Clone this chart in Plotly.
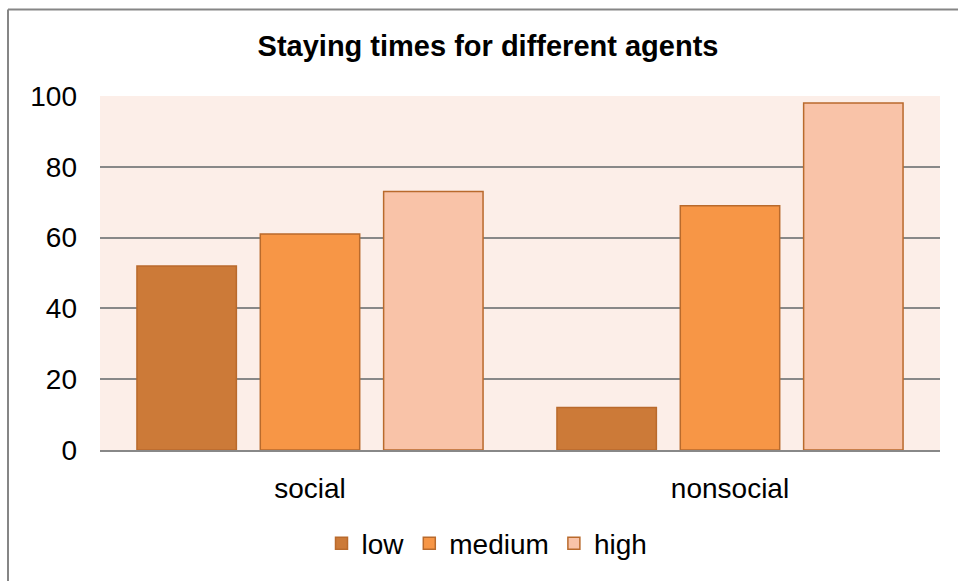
import plotly.graph_objects as go

# Staying times per agent type, split by level
categories = ["social", "nonsocial"]
low = [52, 12]
medium = [61, 69]
high = [73, 98]
y_ticks = [0, 20, 40, 60, 80, 100]

W, H = 958, 581
L, R, T, B = 100, 18, 96, 129
plot_w = W - L - R
plot_h = H - T - B

FONT = "Liberation Sans, Arial, sans-serif"
OUTLINE = "#B96A2C"

series = [
    ("low", low, "#CC7A38"),
    ("medium", medium, "#F79646"),
    ("high", high, "#F9C3A8"),
]

fig = go.Figure()
for name, vals, color in series:
    fig.add_trace(go.Bar(
        name=name, x=categories, y=vals,
        marker=dict(color=color, line=dict(color=OUTLINE, width=1.5)),
    ))

def px_x(px):
    return (px - L) / plot_w

def px_y(py):
    return (H - B - py) / plot_h

fig.update_layout(
    width=W, height=H,
    margin=dict(l=L, r=R, t=T, b=B, pad=0),
    paper_bgcolor="white",
    plot_bgcolor="#FCEEE8",
    barmode="group",
    bargap=0.119,
    bargroupgap=0.194,
    font=dict(family=FONT, size=28, color="black"),
    title=dict(
        text="<b>Staying times for different agents</b>",
        font=dict(family=FONT, size=29, color="black"),
        x=488 / W, xanchor="center", xref="container",
        y=1 - 46 / H, yanchor="middle", yref="container",
    ),
    showlegend=True,
    legend=dict(
        orientation="h",
        x=px_x(487), xanchor="center",
        y=px_y(546), yanchor="middle",
        font=dict(family=FONT, size=28),
        bgcolor="rgba(0,0,0,0)",
        traceorder="normal",
    ),
    xaxis=dict(
        showgrid=False, showline=True, linecolor="#888888", linewidth=2,
        ticks="", tickfont=dict(size=28), ticklabelstandoff=12,
        fixedrange=True,
    ),
    yaxis=dict(
        range=[0, 100], tickvals=y_ticks, showgrid=True,
        gridcolor="#888888", gridwidth=2, zeroline=False,
        showline=False, ticks="", tickfont=dict(size=28),
        ticklabelstandoff=22, fixedrange=True,
    ),
    shapes=[
        # chart-area frame: left and top edges
        dict(type="line", xref="paper", yref="paper",
             x0=px_x(8), x1=px_x(8), y0=px_y(9), y1=px_y(H + 5),
             line=dict(color="#868686", width=2)),
        dict(type="line", xref="paper", yref="paper",
             x0=px_x(8), x1=px_x(W + 5), y0=px_y(9), y1=px_y(9),
             line=dict(color="#868686", width=2)),
    ],
)

fig.write_html("out.html")
